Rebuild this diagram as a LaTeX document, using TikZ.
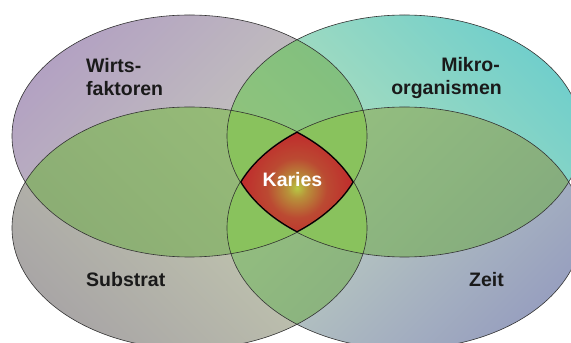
\documentclass[tikz,border=0pt]{standalone}
\usepackage{fontspec}
\setmainfont{Liberation Sans}
\definecolor{tlA}{HTML}{B3A2C2}
\definecolor{tlM}{HTML}{C3C2C0}
\definecolor{tlB}{HTML}{CAD1BA}
\definecolor{trA}{HTML}{72CFCB}
\definecolor{trM}{HTML}{A8DCC2}
\definecolor{trB}{HTML}{C2E3B8}
\definecolor{blA}{HTML}{CBD3B2}
\definecolor{blM}{HTML}{C0C3B2}
\definecolor{blB}{HTML}{A9A6A6}
\definecolor{brA}{HTML}{C6DAC2}
\definecolor{brM}{HTML}{B2C0C2}
\definecolor{brB}{HTML}{98A0BF}
\definecolor{pairgreen}{HTML}{70AD4C}
\definecolor{tripgreen}{HTML}{89C25D}
\definecolor{edge}{HTML}{333333}
\definecolor{txt}{HTML}{1A1A1A}
\definecolor{kc0}{HTML}{B8C844}
\definecolor{kc1}{HTML}{B8923A}
\definecolor{kc2}{HTML}{BB4A32}
\definecolor{kc3}{HTML}{C02A2C}
\definecolor{kc4}{HTML}{A51F28}
\pgfdeclareradialshading{kariesshade}{\pgfpoint{0bp}{0bp}}{color(0bp)=(kc0); color(4bp)=(kc1); color(12bp)=(kc2); color(23bp)=(kc3); color(50bp)=(kc4)}
\newcommand\pTL{(189.5,207) ellipse (177.5 and 121)}
\newcommand\pTR{(404.5,207) ellipse (177.5 and 121)}
\newcommand\pBL{(189.5,115) ellipse (177.5 and 121)}
\newcommand\pBR{(404.5,115) ellipse (177.5 and 121)}
\begin{document}
\begin{tikzpicture}[x=1pt,y=1pt,
  lbl/.style={font=\fontsize{19.5}{22}\selectfont\bfseries, text=txt, inner sep=0pt},
  pairfill/.style={fill=pairgreen, fill opacity=0.56},
  outline/.style={draw=edge, line width=0.6pt}]
\useasboundingbox (0,0) rectangle (571,343);
\clip (0,0) rectangle (571,343);
\fill[white] (0,0) rectangle (571,343);
% single layers
\shade[top color=tlA, middle color=tlM, bottom color=tlB, shading angle=45] \pTL;
\shade[top color=trA, middle color=trM, bottom color=trB, shading angle=-45] \pTR;
\shade[top color=blA, middle color=blM, bottom color=blB, shading angle=-45] \pBL;
\shade[top color=brA, middle color=brM, bottom color=brB, shading angle=45] \pBR;
% pair overlaps
\begin{scope}\clip \pTL; \fill[pairfill] \pTR; \end{scope}
\begin{scope}\clip \pTL; \fill[pairfill] \pBL; \end{scope}
\begin{scope}\clip \pTL; \fill[pairfill] \pBR; \end{scope}
\begin{scope}\clip \pTR; \fill[pairfill] \pBL; \end{scope}
\begin{scope}\clip \pTR; \fill[pairfill] \pBR; \end{scope}
\begin{scope}\clip \pBL; \fill[pairfill] \pBR; \end{scope}
% triple overlaps
\begin{scope}\clip \pTL; \clip \pTR; \fill[tripgreen] \pBL; \end{scope}
\begin{scope}\clip \pTL; \clip \pTR; \fill[tripgreen] \pBR; \end{scope}
\begin{scope}\clip \pTL; \clip \pBL; \fill[tripgreen] \pBR; \end{scope}
\begin{scope}\clip \pTR; \clip \pBL; \fill[tripgreen] \pBR; \end{scope}
% quad overlap (Karies)
\begin{scope}\clip \pTL; \clip \pTR; \clip \pBL; \clip \pBR;
  \shade[shading=kariesshade] (297,155) circle (62);
\end{scope}
% outlines
\draw[outline] \pTL;
\draw[outline] \pTR;
\draw[outline] \pBL;
\draw[outline] \pBR;
\begin{scope}\clip \pTL; \clip \pTR; \clip \pBL; \clip \pBR;
  \draw[line width=2.2pt, black] \pTL \pTR \pBL \pBR;
\end{scope}
% labels
\node[lbl, anchor=base west] (w1) at (86,270) {Wirts-};
\node[lbl, anchor=base west] (w2) at (86,247.5) {faktoren};
\node[lbl, anchor=base east] (m1) at (500,271) {Mikro-};
\node[lbl, anchor=base east] (m2) at (502,248) {organismen};
\node[lbl, anchor=base west] (s) at (86,56.5) {Substrat};
\node[lbl, anchor=base east] (z) at (504,56) {Zeit};
\node[lbl, anchor=base, text=white] (k) at (292.5,156) {Karies};
\end{tikzpicture}
\end{document}
